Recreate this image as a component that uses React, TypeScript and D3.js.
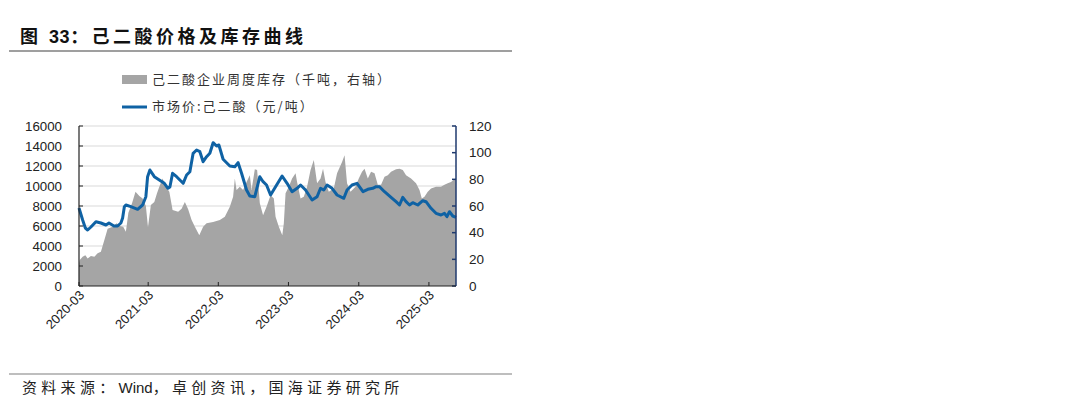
import * as React from 'react';
import * as d3 from 'd3';

// 市场价:己二酸（元/吨）, left axis
const priceDates = [
  '2020-03-06', '2020-03-25', '2020-04-08', '2020-04-20', '2020-05-07', '2020-06-02', '2020-06-28',
  '2020-07-24', '2020-08-09', '2020-09-04', '2020-09-23', '2020-10-10', '2020-10-19', '2020-10-28',
  '2020-11-05', '2020-12-01', '2021-01-05', '2021-01-31', '2021-02-17', '2021-02-26', '2021-03-10',
  '2021-04-02', '2021-04-28', '2021-05-24', '2021-06-12', '2021-06-22', '2021-07-06', '2021-07-27',
  '2021-08-30', '2021-09-17', '2021-10-04', '2021-10-21', '2021-11-08', '2021-11-25', '2021-12-12',
  '2021-12-30', '2022-01-16', '2022-02-02', '2022-02-20', '2022-03-04', '2022-03-26', '2022-04-30',
  '2022-05-26', '2022-06-12', '2022-06-30', '2022-07-26', '2022-08-12', '2022-09-07', '2022-10-03',
  '2022-10-20', '2022-11-07', '2022-11-28', '2022-12-24', '2023-01-27', '2023-02-22', '2023-03-20',
  '2023-04-15', '2023-05-03', '2023-05-29', '2023-07-02', '2023-07-28', '2023-08-15', '2023-09-01',
  '2023-09-18', '2023-10-14', '2023-11-09', '2023-12-14', '2023-12-31', '2024-01-26', '2024-02-21',
  '2024-03-23', '2024-04-17', '2024-05-13', '2024-05-30', '2024-06-17', '2024-07-13', '2024-08-16',
  '2024-09-11', '2024-09-29', '2024-10-16', '2024-11-02', '2024-11-20', '2024-12-07', '2025-01-02',
  '2025-01-28', '2025-02-14', '2025-03-12', '2025-04-07', '2025-05-03', '2025-05-21', '2025-06-03',
  '2025-06-16', '2025-07-03', '2025-07-20',
];
const priceValues = [
  7800, 6600, 5800, 5600, 5900, 6430, 6300,
  6100, 6300, 6000, 6000, 6300, 6800, 7930,
  8100, 7930, 7670, 8100, 8930, 10930, 11600,
  10930, 10600, 10270, 9770, 9900, 11270, 10930,
  10270, 11100, 11430, 13270, 13600, 13430, 12430,
  12930, 13270, 14330, 14000, 14100, 12670, 12000,
  11930, 12330, 11270, 9600, 9000, 8930, 10930,
  10430, 10100, 9100, 9930, 11000, 10270, 9430,
  9770, 10100, 9600, 8600, 8930, 9770, 9600,
  10100, 9770, 9100, 8770, 9600, 10100, 10270,
  9430, 9670, 9770, 9930, 9930, 9430, 8870,
  8430, 8100, 8870, 8430, 8100, 8330, 8100,
  8530, 8430, 7770, 7270, 7100, 7270, 6930,
  7430, 7000, 6870,
];

// 己二酸企业周度库存（千吨，右轴）
const stockDates = [
  '2020-03-06', '2020-03-10', '2020-03-25', '2020-04-08', '2020-04-20', '2020-05-07', '2020-05-25',
  '2020-06-11', '2020-06-28', '2020-07-16', '2020-08-02', '2020-08-28', '2020-09-18', '2020-10-05',
  '2020-10-22', '2020-11-05', '2020-11-18', '2020-12-07', '2020-12-25', '2021-01-14', '2021-01-31',
  '2021-02-17', '2021-02-28', '2021-03-15', '2021-04-02', '2021-04-16', '2021-04-28', '2021-05-15',
  '2021-06-01', '2021-06-19', '2021-07-06', '2021-08-04', '2021-08-22', '2021-09-08', '2021-09-25',
  '2021-10-13', '2021-10-30', '2021-11-22', '2021-12-12', '2021-12-30', '2022-02-02', '2022-03-09',
  '2022-04-04', '2022-04-30', '2022-05-17', '2022-05-26', '2022-06-04', '2022-06-21', '2022-07-08',
  '2022-07-26', '2022-08-12', '2022-08-21', '2022-09-07', '2022-09-19', '2022-10-03', '2022-10-20',
  '2022-11-07', '2022-11-28', '2022-12-15', '2022-12-24', '2023-01-10', '2023-01-28', '2023-02-05',
  '2023-02-14', '2023-03-03', '2023-03-20', '2023-04-07', '2023-04-15', '2023-05-03', '2023-05-20',
  '2023-06-06', '2023-06-24', '2023-07-11', '2023-07-28', '2023-08-15', '2023-08-28', '2023-09-10',
  '2023-09-27', '2023-10-23', '2023-11-09', '2023-12-05', '2023-12-18', '2023-12-31', '2024-01-18',
  '2024-02-13', '2024-03-01', '2024-03-18', '2024-03-31', '2024-04-17', '2024-05-04', '2024-05-22',
  '2024-06-08', '2024-06-25', '2024-07-13', '2024-07-30', '2024-08-16', '2024-09-11', '2024-09-29',
  '2024-10-16', '2024-11-02', '2024-11-28', '2024-12-24', '2025-01-11', '2025-01-23', '2025-02-06',
  '2025-02-23', '2025-03-12', '2025-04-07', '2025-05-03', '2025-05-21', '2025-06-07', '2025-06-24',
  '2025-07-12', '2025-07-20',
];
const stockValues = [
  17, 19.5, 22, 23, 20.7, 22.5, 22,
  24.5, 25.7, 34.5, 43, 44.5, 47, 45,
  44.5, 40.7, 55, 62, 70.7, 67.5, 65.7,
  60, 44, 60.7, 63, 69.5, 74.5, 80.7,
  74.5, 70.7, 57, 55.7, 58, 63, 57.5,
  49.5, 44.5, 38, 44.5, 47, 48, 49.5,
  52, 59.5, 67, 80.7, 72, 74.5, 72,
  78, 83, 72, 87.5, 87, 62, 53,
  59.5, 68, 65.7, 52, 44.5, 38, 47,
  69.5, 74.5, 80.7, 84.5, 78, 65.7, 67,
  74.5, 87, 94.5, 77, 80.7, 88, 78,
  70.7, 73.2, 84.5, 93, 98, 77, 70.7,
  74.5, 80.7, 85.7, 88, 80.7, 85.7, 84.5,
  76, 76, 82, 83, 85.7, 87.5, 88,
  87, 83, 80.7, 77, 72, 65.7, 67,
  70.7, 73.2, 74.5, 74.5, 76, 77, 78,
  80, 80.7,
];

const leftTicks = [0, 2000, 4000, 6000, 8000, 10000, 12000, 14000, 16000];
const rightTicks = [0, 20, 40, 60, 80, 100, 120];
const xTickLabels = ['2020-03', '2021-03', '2022-03', '2023-03', '2024-03', '2025-03'];

const W = 1080;
const H = 402;
const plot = { left: 79, right: 456, top: 126, bottom: 286 };
const cjk = '"Noto Sans CJK SC", "Noto Sans", sans-serif';
const latin = '"Liberation Sans", Arial, sans-serif';

const parse = d3.timeParse('%Y-%m-%d');

export default function App() {
  const price = priceDates.map((d, i) => ({ date: parse(d) as Date, v: priceValues[i] }));
  const stock = stockDates.map((d, i) => ({ date: parse(d) as Date, v: stockValues[i] }));

  const x = d3.scaleTime()
    .domain([parse('2020-03-06') as Date, parse('2025-07-20') as Date])
    .range([plot.left, plot.right]);
  const yL = d3.scaleLinear().domain([0, 16000]).range([plot.bottom, plot.top]);
  const yR = d3.scaleLinear().domain([0, 120]).range([plot.bottom, plot.top]);

  const area = d3.area<{ date: Date; v: number }>()
    .x(d => x(d.date))
    .y0(yR(0))
    .y1(d => yR(d.v));
  const line = d3.line<{ date: Date; v: number }>()
    .x(d => x(d.date))
    .y(d => yL(d.v));

  const xTicks = xTickLabels.map(t => ({ label: t, pos: x(d3.timeParse('%Y-%m')(t) as Date) }));
  // first tick sits on the first category
  xTicks[0].pos = plot.left;

  return (
    <div style={{ position: 'absolute', left: 0, top: 0 }}>
      <svg width={W} height={H} style={{ display: 'block', background: '#fff' }}>
        {/* title */}
        <text x={20} y={43} fontFamily={cjk} fontWeight={700} fontSize={18} letterSpacing={3.5} fill="#111">
          图 <tspan fontFamily={latin} letterSpacing={0.5}>33</tspan>：己二酸价格及库存曲线
        </text>
        <line x1={9} x2={512} y1={51} y2={51} stroke="#7f7f7f" strokeWidth={1.5} />

        {/* legend */}
        <rect x={122} y={75} width={25} height={9} fill="#a5a5a5" />
        <text x={152} y={84} fontFamily={cjk} fontSize={13} letterSpacing={2} fill="#333">
          己二酸企业周度库存（千吨，右轴）
        </text>
        <line x1={122} x2={147} y1={107} y2={107} stroke="#0f62a4" strokeWidth={3} />
        <text x={152} y={111} fontFamily={cjk} fontSize={13} letterSpacing={2} fill="#333">
          市场价:己二酸（元/吨）
        </text>

        {/* gridlines */}
        {leftTicks.filter(t => t > 0).map(t => (
          <line key={t} x1={plot.left} x2={plot.right} y1={yL(t)} y2={yL(t)} stroke="#d9d9d9" strokeWidth={1} />
        ))}

        <path d={area(stock) || ''} fill="#a5a5a5" />
        <path d={line(price) || ''} fill="none" stroke="#0f62a4" strokeWidth={3} strokeLinejoin="round" />

        {/* left axis */}
        <line x1={plot.left} x2={plot.left} y1={plot.top} y2={plot.bottom} stroke="#222" strokeWidth={1.2} />
        {leftTicks.map(t => (
          <g key={t}>
            <line x1={plot.left} x2={plot.left + 4} y1={yL(t)} y2={yL(t)} stroke="#222" />
            <text x={62} y={yL(t) + 4.5} textAnchor="end" fontFamily={latin} fontSize={13.3} fill="#222">
              {t}
            </text>
          </g>
        ))}

        {/* right axis */}
        <line x1={plot.right} x2={plot.right} y1={plot.top} y2={plot.bottom} stroke="#1f3a6e" strokeWidth={1.5} />
        {rightTicks.map(t => (
          <g key={t}>
            <line x1={plot.right - 4} x2={plot.right} y1={yR(t)} y2={yR(t)} stroke="#1f3a6e" strokeWidth={1.5} />
            <text x={469} y={yR(t) + 4.5} fontFamily={latin} fontSize={13.5} fill="#222">
              {t}
            </text>
          </g>
        ))}

        {/* bottom axis */}
        <line x1={plot.left} x2={plot.right} y1={plot.bottom} y2={plot.bottom} stroke="#222" strokeWidth={1.2} />
        {xTicks.map(t => (
          <g key={t.label}>
            <line x1={t.pos} x2={t.pos} y1={plot.bottom - 4} y2={plot.bottom} stroke="#222" />
            <text
              transform={`translate(${t.pos + 6},${plot.bottom + 10}) rotate(-45)`}
              textAnchor="end"
              fontFamily={latin}
              fontSize={13}
              fill="#222"
            >
              {t.label}
            </text>
          </g>
        ))}

        {/* source */}
        <line x1={9} x2={512} y1={374} y2={374} stroke="#7f7f7f" strokeWidth={1.2} />
        <text x={22} y={393} fontFamily={cjk} fontSize={15} letterSpacing={4.3} fill="#222">
          资料来源：<tspan fontFamily={latin} letterSpacing={0}>Wind</tspan>，卓创资讯，国海证券研究所
        </text>
      </svg>
    </div>
  );
}
